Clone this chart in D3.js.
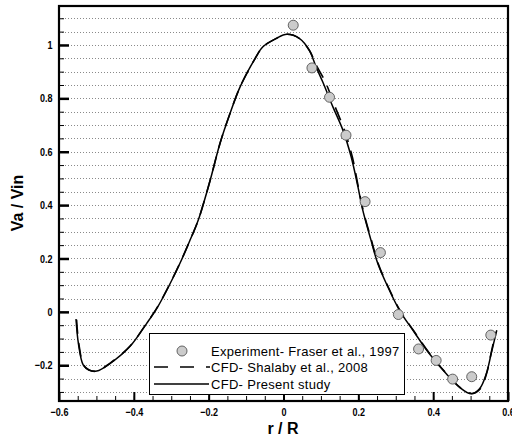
<!DOCTYPE html>
<html><head><meta charset="utf-8">
<script src="https://cdn.jsdelivr.net/npm/d3@7"></script>
<style>body{margin:0;background:#fff}svg{display:block}</style>
</head><body>
<svg id="c" width="512" height="439"></svg>
<script>
// Data
const expX = [0.026, 0.076, 0.123, 0.167, 0.218, 0.259, 0.307, 0.361, 0.408, 0.452, 0.503, 0.554];
const expY = [1.074, 0.914, 0.804, 0.662, 0.413, 0.222, -0.010, -0.139, -0.182, -0.252, -0.243, -0.087];

const presX = [-0.5545,-0.548,-0.535,-0.520,-0.499,-0.464,-0.410,-0.366,-0.339,-0.312,-0.277,-0.250,-0.228,-0.196,-0.170,-0.143,-0.116,-0.076,-0.055,-0.020,0.009,0.043,0.069,0.087,0.105,0.132,0.159,0.181,0.199,0.212,0.234,0.252,0.279,0.310,0.346,0.390,0.435,0.470,0.502,0.524,0.542,0.555,0.570];
const presY = [-0.027,-0.120,-0.200,-0.218,-0.222,-0.194,-0.129,-0.044,0.012,0.081,0.181,0.268,0.343,0.493,0.630,0.743,0.843,0.949,0.993,1.024,1.040,1.024,0.980,0.918,0.861,0.768,0.680,0.580,0.468,0.380,0.268,0.181,0.093,0.006,-0.069,-0.157,-0.232,-0.282,-0.307,-0.288,-0.232,-0.157,-0.069];

const shalX = [-0.553,-0.547,-0.534,-0.520,-0.499,-0.464,-0.410,-0.366,-0.339,-0.312,-0.277,-0.250,-0.228,-0.196,-0.170,-0.143,-0.116,-0.076,-0.055,-0.020,0.009,0.043,0.069,0.090,0.112,0.138,0.163,0.184,0.200,0.213,0.235,0.253,0.280,0.311,0.347,0.391,0.436,0.471,0.503,0.525,0.542,0.554,0.567];
const shalY = [-0.030,-0.120,-0.200,-0.218,-0.222,-0.193,-0.128,-0.043,0.013,0.082,0.182,0.268,0.343,0.493,0.630,0.743,0.843,0.949,0.993,1.024,1.040,1.024,0.980,0.918,0.861,0.768,0.680,0.580,0.468,0.380,0.268,0.181,0.093,0.006,-0.069,-0.157,-0.232,-0.282,-0.306,-0.290,-0.235,-0.160,-0.075];

const xMajor = [-0.6,-0.4,-0.2,0,0.2,0.4,0.6];
const yMajor = [-0.2,0,0.2,0.4,0.6,0.8,1];
const legendLabels = ["Experiment- Fraser et al., 1997","CFD- Shalaby et al., 2008","CFD- Present study"];

const svg = d3.select("#c");
const L = 59, T = 6, R = 508, B = 401;
const x = d3.scaleLinear().domain([-0.6, 0.6]).range([L, R]);
const y = d3.scaleLinear().domain([-0.334, 1.146]).range([B, T]);
const tickFont = "'Liberation Sans',Arial,sans-serif";

// grid every 0.05
const gridVals = d3.range(-30, 111, 5).map(v => v / 100);
svg.append("g").selectAll("line").data(gridVals).join("line")
  .attr("x1", L).attr("x2", R)
  .attr("y1", d => Math.round(y(d)) + 0.5).attr("y2", d => Math.round(y(d)) + 0.5)
  .attr("stroke", "#8a8a8a").attr("stroke-width", 1).attr("stroke-dasharray", "1,2");

const fmt = d => d === 0 ? "0" : d3.format("")(d);
const xMinor = d3.range(-60, 61, 5).map(v => v / 100);
const yMinor = d3.range(-30, 111, 5).map(v => v / 100);

const xAxisMinor = svg.append("g").attr("transform", `translate(0,${B})`)
  .call(d3.axisBottom(x).tickValues(xMinor).tickSize(-5).tickFormat(""));
xAxisMinor.select(".domain").remove();
xAxisMinor.selectAll("line").attr("stroke", "#000").attr("stroke-width", 1);

const xAxis = svg.append("g").attr("transform", `translate(0,${B})`)
  .call(d3.axisBottom(x).tickValues(xMajor).tickSize(-9).tickPadding(7).tickFormat(fmt));
xAxis.select(".domain").remove();
xAxis.selectAll("line").attr("stroke", "#000").attr("stroke-width", 2);
xAxis.selectAll("text").attr("font-family", tickFont)
  .attr("font-weight", "bold").attr("font-size", 11).attr("fill", "#000")
  .attr("transform", "scale(0.82,1)");

const yAxisMinor = svg.append("g").attr("transform", `translate(${L},0)`)
  .call(d3.axisLeft(y).tickValues(yMinor).tickSize(-5).tickFormat(""));
yAxisMinor.select(".domain").remove();
yAxisMinor.selectAll("line").attr("stroke", "#000").attr("stroke-width", 1);

const yAxis = svg.append("g").attr("transform", `translate(${L},0)`)
  .call(d3.axisLeft(y).tickValues(yMajor).tickSize(-10).tickPadding(8).tickFormat(fmt));
yAxis.select(".domain").remove();
yAxis.selectAll("line").attr("stroke", "#000").attr("stroke-width", 2.5);
yAxis.selectAll("text").attr("font-family", tickFont)
  .attr("font-weight", "bold").attr("font-size", 11).attr("fill", "#000")
  .attr("transform", "scale(0.82,1)");

// frame
svg.append("rect").attr("x", L).attr("y", T).attr("width", R - L).attr("height", B - T)
  .attr("fill", "none").attr("stroke", "#000").attr("stroke-width", 2.2);

// curves
const line = d3.line().x(d => x(d[0])).y(d => y(d[1])).curve(d3.curveCatmullRom.alpha(0.5));
const shal = shalX.map((v, i) => [v, shalY[i]]);
const pres = presX.map((v, i) => [v, presY[i]]);
svg.append("path").attr("d", line(shal)).attr("fill", "none").attr("stroke", "#000")
  .attr("stroke-width", 1.6).attr("stroke-dasharray", "14,9");
svg.append("path").attr("d", line(pres)).attr("fill", "none").attr("stroke", "#000")
  .attr("stroke-width", 1.5);

// experimental points
svg.append("g").selectAll("circle").data(expX.map((v, i) => [v, expY[i]])).join("circle")
  .attr("cx", d => x(d[0])).attr("cy", d => y(d[1])).attr("r", 5)
  .attr("fill", "#cbcbcb").attr("stroke", "#555").attr("stroke-width", 0.9);

// legend
const lg = svg.append("g");
lg.append("rect").attr("x", 149.5).attr("y", 333.5).attr("width", 255).attr("height", 61)
  .attr("fill", "#fff").attr("stroke", "#000").attr("stroke-width", 1);
const ly = [351, 367, 384];
lg.append("circle").attr("cx", 182).attr("cy", ly[0]).attr("r", 5)
  .attr("fill", "#cbcbcb").attr("stroke", "#555").attr("stroke-width", 0.9);
lg.append("line").attr("x1", 154).attr("x2", 210).attr("y1", ly[1]).attr("y2", ly[1])
  .attr("stroke", "#000").attr("stroke-width", 1.5).attr("stroke-dasharray", "14,12");
lg.append("line").attr("x1", 154).attr("x2", 209).attr("y1", ly[2]).attr("y2", ly[2])
  .attr("stroke", "#000").attr("stroke-width", 1.5);
lg.selectAll("text").data(legendLabels).join("text")
  .attr("x", 211).attr("y", (d, i) => ly[i] + 4.5)
  .attr("font-family", "'Liberation Sans',Arial,sans-serif").attr("font-size", 13)
  .attr("letter-spacing", "0.3px")
  .attr("fill", "#000").text(d => d);

// axis titles
svg.append("text").attr("x", 283).attr("y", 434).attr("text-anchor", "middle")
  .attr("font-family", "'Liberation Sans',Arial,sans-serif").attr("font-weight", "bold")
  .attr("font-size", 16).text("r / R");
svg.append("text").attr("transform", "translate(23,203) rotate(-90)").attr("text-anchor", "middle")
  .attr("font-family", "'Liberation Sans',Arial,sans-serif").attr("font-weight", "bold")
  .attr("font-size", 16).text("Va / Vin");
</script>
</body></html>
